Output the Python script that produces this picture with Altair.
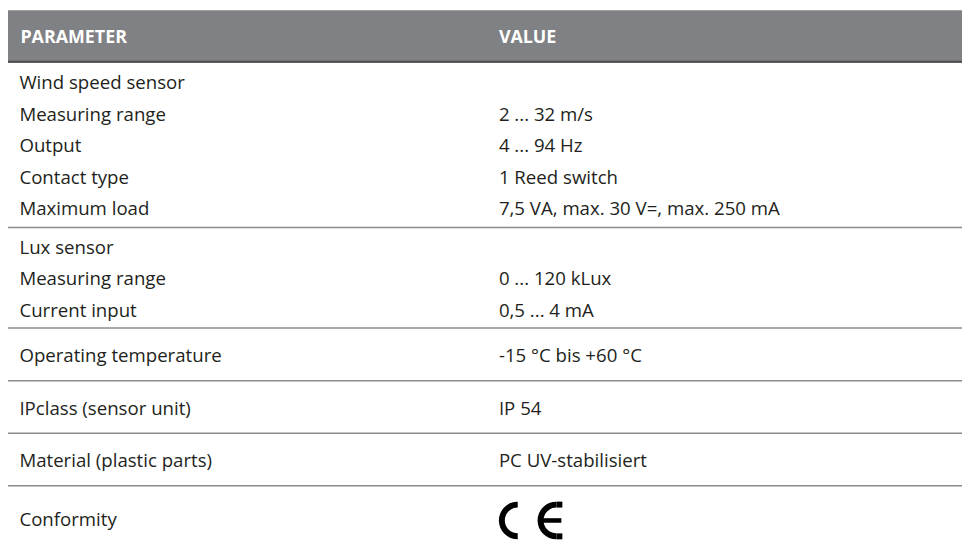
import math
import altair as alt
import pandas as pd

# ---- table content ----
header_param = "PARAMETER"
header_value = "VALUE"
params = ["Wind speed sensor", "Measuring range", "Output", "Contact type", "Maximum load",
          "Lux sensor", "Measuring range", "Current input",
          "Operating temperature",
          "IPclass (sensor unit)",
          "Material (plastic parts)",
          "Conformity"]
values = ["", "2 ... 32 m/s", "4 ... 94 Hz", "1 Reed switch", "7,5 VA, max. 30 V=, max. 250 mA",
          "", "0 ... 120 kLux", "0,5 ... 4 mA",
          "-15 °C bis +60 °C",
          "IP 54",
          "PC UV-stabilisiert",
          ""]
groups = [0, 0, 0, 0, 0, 1, 1, 1, 2, 3, 4, 5]
ce_row = 11  # row that carries the CE mark

# ---- layout (pixels inside the chart) ----
W, H = 962, 543
HEADER_H = 53
PITCH = 31.75
PAD_TOP, PAD_BOT = 20.5, 18.5
SINGLE_H = 53
LAST_H = 70
COL_PARAM_X = 11.5
COL_VALUE_X = 495

centers = []
seps = []
top = HEADER_H
gids = sorted(set(groups))
for gi, g in enumerate(gids):
    idx = [i for i, gg in enumerate(groups) if gg == g]
    n = len(idx)
    last = gi == len(gids) - 1
    if last:
        h = LAST_H
    elif n == 1:
        h = SINGLE_H
    else:
        h = PAD_TOP + PAD_BOT + (n - 1) * PITCH
        if gi > 0:
            h -= 1
    for k, i in enumerate(idx):
        if n == 1:
            centers.append(top + (h / 2 if last else h / 2 + 2))
        else:
            centers.append(top + PAD_TOP + k * PITCH)
    top += h
    if not last:
        seps.append(top)

rows = pd.DataFrame({"param": params, "value": values, "y": centers,
                     "xp": COL_PARAM_X, "xv": COL_VALUE_X})
sep_df = pd.DataFrame({"y": seps, "x": 0, "x2": W})
head_df = pd.DataFrame({"x": [0], "x2": [W], "y": [0], "y2": [HEADER_H],
                        "yl": [HEADER_H - 1], "yt": [HEADER_H / 2 + 1.5],
                        "xp": [COL_PARAM_X + 1], "xv": [COL_VALUE_X],
                        "hp": [header_param], "hv": [header_value]})

xs = alt.Scale(domain=[0, W])
ys = alt.Scale(domain=[0, H], reverse=True)
FONT = "Open Sans"
TXT = "#231f20"
BODY_SIZE = 18.8
HEAD_SIZE = 18

base_x = lambda f: alt.X(f, type="quantitative", scale=xs, axis=None)
base_y = lambda f: alt.Y(f, type="quantitative", scale=ys, axis=None)

header_rect = alt.Chart(head_df).mark_rect(color="#808184").encode(
    x=base_x("x"), x2="x2", y=base_y("y"), y2="y2")
header_line = alt.Chart(head_df).mark_rule(color="#4d4d4f", strokeWidth=2).encode(
    x=base_x("x"), x2="x2", y=base_y("yl"))
header_p = alt.Chart(head_df).mark_text(align="left", baseline="middle", font=FONT,
                                        fontWeight="bold", fontSize=HEAD_SIZE, color="white").encode(
    x=base_x("xp"), y=base_y("yt"), text="hp:N")
header_v = alt.Chart(head_df).mark_text(align="left", baseline="middle", font=FONT,
                                        fontWeight="bold", fontSize=HEAD_SIZE, color="white").encode(
    x=base_x("xv"), y=base_y("yt"), text="hv:N")

sep_rules = alt.Chart(sep_df).mark_rule(color="#8c8c8c", strokeWidth=1.5).encode(
    x=base_x("x"), x2="x2", y=base_y("y"))

ptext = alt.Chart(rows).mark_text(align="left", baseline="middle", font=FONT,
                                  fontSize=BODY_SIZE, color=TXT).encode(
    x=base_x("xp"), y=base_y("y"), text="param:N")
vtext = alt.Chart(rows).mark_text(align="left", baseline="middle", font=FONT,
                                  fontSize=BODY_SIZE, color=TXT).encode(
    x=base_x("xv"), y=base_y("y"), text="value:N")

# ---- CE mark built from arcs ----
R_OUT, R_IN = 19, 13
cy = centers[ce_row]
cx_c = COL_VALUE_X + R_OUT
cx_e = cx_c + 39
arcs_df = pd.DataFrame({"cx": [cx_c, cx_e], "cy": [cy, cy]})
ce_arcs = alt.Chart(arcs_df).mark_arc(color="black").encode(
    x=base_x("cx"), y=base_y("cy"),
    theta=alt.value(math.pi), theta2=alt.value(2 * math.pi),
    radius=alt.value(R_OUT), radius2=alt.value(R_IN))
bars_df = pd.DataFrame({
    "x": [cx_e, cx_e, cx_e - R_OUT + 3],
    "x2": [cx_e + 6, cx_e + 6, cx_e + 5],
    "y": [cy - R_OUT, cy + R_IN, cy - 2.3],
    "y2": [cy - R_IN, cy + R_OUT, cy + 2.3]})
ce_bars = alt.Chart(bars_df).mark_rect(color="black").encode(
    x=base_x("x"), x2="x2", y=base_y("y"), y2="y2")

chart = alt.layer(header_rect, header_line, header_p, header_v, sep_rules,
                  ptext, vtext, ce_arcs, ce_bars).properties(
    width=W, height=H, padding=0, autosize="none"
).configure_view(stroke=None)

chart.save("out.html", embed_options={"renderer": "svg", "actions": False})
